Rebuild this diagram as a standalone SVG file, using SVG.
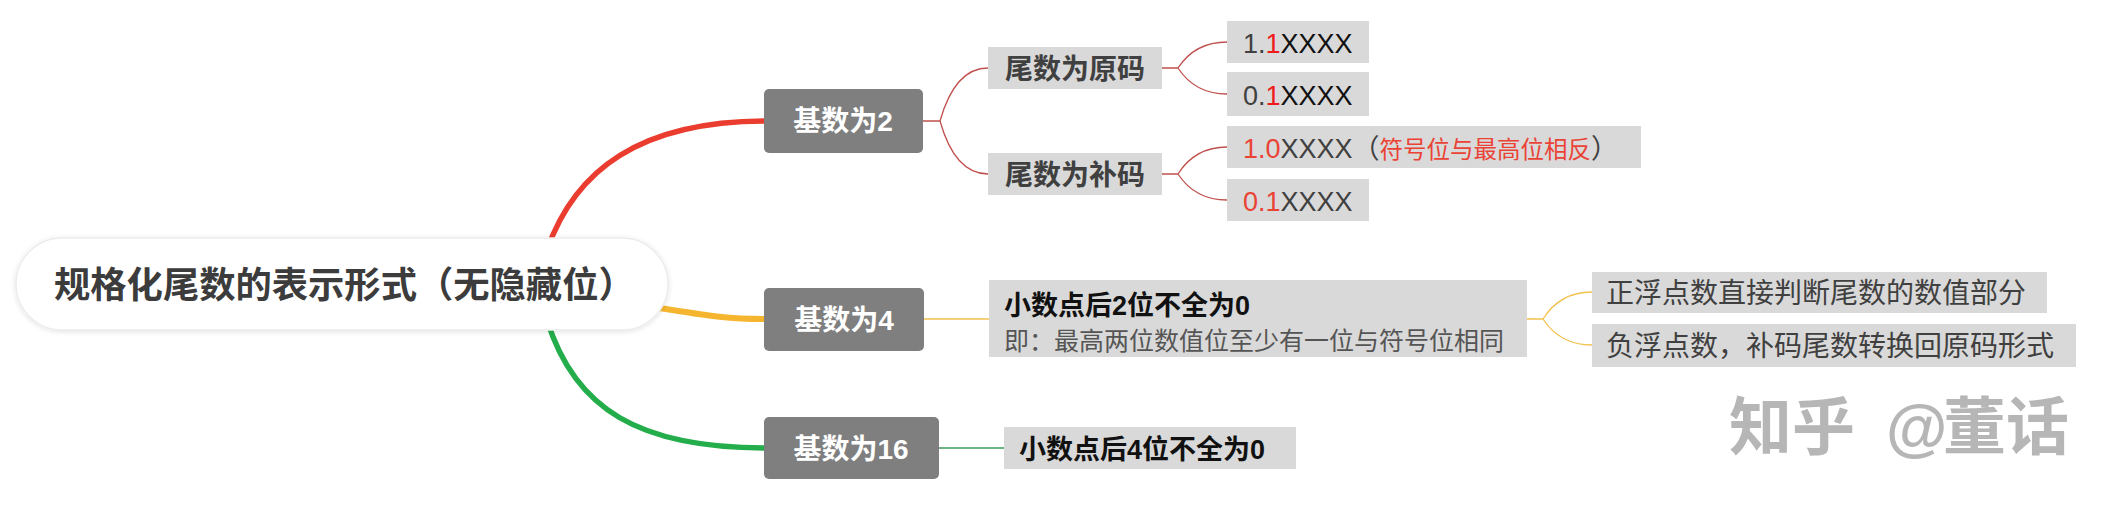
<svg xmlns="http://www.w3.org/2000/svg" width="2117" height="510" viewBox="0 0 2117 510">
<defs>
<style>
.bg{fill:#ffffff}
.thick{fill:none;stroke-linecap:round}
.thin{fill:none;stroke-width:1.3}
.dark{fill:#7f7f7f}
.box{fill:#d9d9d9}
.cjk{font-family:"Liberation Sans","Noto Sans CJK SC",sans-serif}
.lbl-w{font-family:"Liberation Sans","Noto Sans CJK SC",sans-serif;font-size:28px;font-weight:700;fill:#ffffff;text-anchor:middle}
.lbl-b{font-family:"Liberation Sans","Noto Sans CJK SC",sans-serif;font-size:28px;font-weight:700;fill:#404040;text-anchor:middle}
.t27{font-family:"Liberation Sans","Noto Sans CJK SC",sans-serif;font-size:27px}
.t28{font-family:"Noto Sans CJK SC",sans-serif;font-size:28px;fill:#404040}
</style>
<filter id="sh" x="-10%" y="-30%" width="120%" height="160%">
<feDropShadow dx="0" dy="1" stdDeviation="2.5" flood-color="#000" flood-opacity="0.12"/>
</filter>
</defs>
<rect class="bg" x="0" y="0" width="2117" height="510"/>

<g id="connectors">
<path class="thick" d="M547 250 C 575 170, 640 121, 766 121" stroke="#ea3d2f" stroke-width="5.5"/>
<path class="thick" d="M640 305 C 700 314, 720 319, 766 319" stroke="#f5b52e" stroke-width="6"/>
<path class="thick" d="M547 320 C 575 410, 640 448, 766 448" stroke="#24ad4b" stroke-width="5.5"/>

<path class="thin" stroke="#c0504d" d="M923 121 H940 Q955 68 988 68 M940 121 Q955 174 988 174"/>
<path class="thin" stroke="#c0504d" d="M1162 68 H1178 Q1195 42 1227 42 M1178 68 Q1195 94 1227 94"/>
<path class="thin" stroke="#c0504d" d="M1162 174 H1178 Q1195 147 1227 147 M1178 174 Q1195 200 1227 200"/>

<path class="thin" stroke="#f2c14e" d="M924 319 H989"/>
<path class="thin" stroke="#f2c14e" d="M1527 319 H1543 Q1560 292 1592 292 M1543 319 Q1560 345 1592 345"/>

<path class="thin" stroke="#3c9a5c" d="M939 448 H1004"/>
</g>

<g id="root">
<rect x="16" y="238" width="652" height="92" rx="46" fill="#ffffff" stroke="#ececec" stroke-width="1.5" filter="url(#sh)"/>
<text x="54" y="298" class="cjk" font-size="36.3" font-weight="700" fill="#3c3c3c">规格化尾数的表示形式（无隐藏位）</text>
</g>

<g id="base2">
<rect class="dark" x="764" y="89" width="159" height="64" rx="5"/>
<text class="lbl-w" x="843" y="131">基数为2</text>
</g>
<g id="base4">
<rect class="dark" x="764" y="288" width="160" height="63" rx="5"/>
<text class="lbl-w" x="844" y="330">基数为4</text>
</g>
<g id="base16">
<rect class="dark" x="764" y="417" width="175" height="62" rx="5"/>
<text class="lbl-w" x="851" y="459">基数为16</text>
</g>

<g id="mant-orig">
<rect class="box" x="988" y="47" width="174" height="42"/>
<text class="lbl-b" x="1075" y="79">尾数为原码</text>
</g>
<g id="mant-comp">
<rect class="box" x="988" y="153" width="174" height="42"/>
<text class="lbl-b" x="1075" y="185">尾数为补码</text>
</g>

<g id="o1">
<rect class="box" x="1227" y="21" width="142" height="42"/>
<text class="t27" x="1243" y="53"><tspan fill="#404040">1.</tspan><tspan fill="#f01a1a">1</tspan><tspan fill="#111111">XXXX</tspan></text>
</g>
<g id="o2">
<rect class="box" x="1227" y="72" width="142" height="44"/>
<text class="t27" x="1243" y="105"><tspan fill="#404040">0.</tspan><tspan fill="#f01a1a">1</tspan><tspan fill="#111111">XXXX</tspan></text>
</g>
<g id="c1">
<rect class="box" x="1227" y="126" width="414" height="42"/>
<text class="t27" x="1243" y="158"><tspan fill="#ea4336">1.0</tspan><tspan fill="#404040">XXXX（</tspan><tspan fill="#ea4336" font-size="23.5">符号位与最高位相反</tspan><tspan fill="#404040">）</tspan></text>
</g>
<g id="c2">
<rect class="box" x="1227" y="179" width="142" height="42"/>
<text class="t27" x="1243" y="211"><tspan fill="#ea4336">0.1</tspan><tspan fill="#404040">XXXX</tspan></text>
</g>

<g id="b4-rule">
<rect class="box" x="989" y="280" width="538" height="77"/>
<text class="cjk" x="1004" y="315" font-size="27" font-weight="700" fill="#111111">小数点后2位不全为0</text>
<text class="cjk" x="1004" y="350" font-size="25" fill="#555555">即：最高两位数值位至少有一位与符号位相同</text>
</g>
<g id="pos">
<rect class="box" x="1592" y="272" width="455" height="41"/>
<text class="t28" x="1606" y="303">正浮点数直接判断尾数的数值部分</text>
</g>
<g id="neg">
<rect class="box" x="1592" y="324" width="484" height="43"/>
<text class="t28" x="1606" y="356">负浮点数，补码尾数转换回原码形式</text>
</g>

<g id="b16-rule">
<rect class="box" x="1004" y="427" width="292" height="42"/>
<text class="cjk" x="1019" y="459" font-size="27" font-weight="700" fill="#111111">小数点后4位不全为0</text>
</g>

<g id="watermark">
<text class="cjk" y="449" font-size="63" font-weight="700" fill="#b6b6b6"><tspan x="1729">知乎</tspan><tspan x="1886">@</tspan><tspan x="1943">董话</tspan></text>
</g>
</svg>
